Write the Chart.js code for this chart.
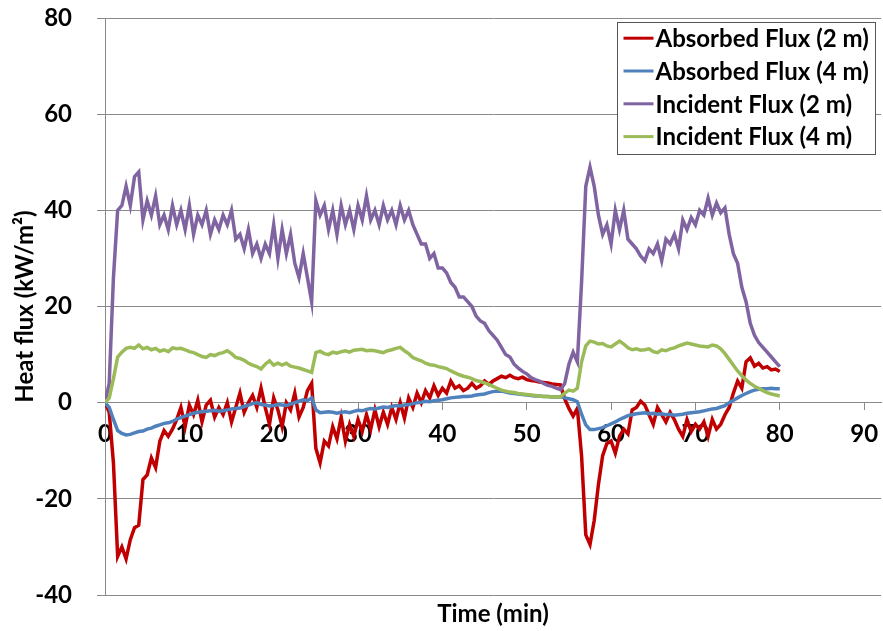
<!DOCTYPE html>
<html>
<head>
<meta charset="utf-8">
<title>Heat flux</title>
<script src="https://cdn.jsdelivr.net/npm/chart.js@4.4.1/dist/chart.umd.min.js"></script>
<style>
  html, body { margin: 0; padding: 0; background: #ffffff; }
  #wrap { width: 883px; height: 631px; }
</style>
</head>
<body>
<div id="wrap"><canvas id="chart" width="883" height="631"></canvas></div>
<script>
// Time axis (minutes), one sample every half minute
const timeMin = [
  0, 0.5, 1, 1.5, 2, 2.5, 3, 3.5, 4, 4.5,
  5, 5.5, 6, 6.5, 7, 7.5, 8, 8.5, 9, 9.5,
  10, 10.5, 11, 11.5, 12, 12.5, 13, 13.5, 14, 14.5,
  15, 15.5, 16, 16.5, 17, 17.5, 18, 18.5, 19, 19.5,
  20, 20.5, 21, 21.5, 22, 22.5, 23, 23.5, 24, 24.5,
  25, 25.5, 26, 26.5, 27, 27.5, 28, 28.5, 29, 29.5,
  30, 30.5, 31, 31.5, 32, 32.5, 33, 33.5, 34, 34.5,
  35, 35.5, 36, 36.5, 37, 37.5, 38, 38.5, 39, 39.5,
  40, 40.5, 41, 41.5, 42, 42.5, 43, 43.5, 44, 44.5,
  45, 45.5, 46, 46.5, 47, 47.5, 48, 48.5, 49, 49.5,
  50, 50.5, 51, 51.5, 52, 52.5, 53, 53.5, 54, 54.5,
  55, 55.5, 56, 56.5, 57, 57.5, 58, 58.5, 59, 59.5,
  60, 60.5, 61, 61.5, 62, 62.5, 63, 63.5, 64, 64.5,
  65, 65.5, 66, 66.5, 67, 67.5, 68, 68.5, 69, 69.5,
  70, 70.5, 71, 71.5, 72, 72.5, 73, 73.5, 74, 74.5,
  75, 75.5, 76, 76.5, 77, 77.5, 78, 78.5, 79, 79.5,
  80
];

// Absorbed heat flux at 2 m (kW/m2)
const absorbed2m = [
  0, -2, -12.5, -32, -30, -32.5, -28.5, -26, -25.5, -16,
  -15, -11.5, -13.5, -8, -5.8, -7, -5.5, -3.5, -1, -5,
  -0.5, -2.5, 0.5, -4, -0.5, 0.5, -3, -1, -2.5, 0,
  -4, -1, 2, -2, 0, 1.5, -1, 3, -1, -4.5,
  1, -1.5, -5, 0, -1.5, 2, -3, -1, 2.5, 4,
  -9.5, -12.5, -8, -9, -5, -7.5, -3, -8, -4.5, -7,
  -3.5, -6, -2.5, -5.5, -1.5, -5, -2, -4.5, -1, -3.5,
  0, -3.2, 1, -1, 2, 0, 2.5, 1, 3.5, 1.5,
  3, 2, 4.5, 3, 3.5, 2.5, 3, 4, 3, 3.5,
  4.5, 3.8, 4.5, 5, 5.5, 5.2, 5.7, 5.2, 5, 5.3,
  4.8, 4.6, 4.5, 4.3, 4.2, 4.1, 3.9, 3.8, 3.7, 0.8,
  -1.2, -2.8, -1.2, -11, -27.5, -29.5, -24.5, -17, -11, -8.5,
  -8, -10.5, -7, -5.5, -6.5, -1.5, -1, 0.3, -0.5, -2.5,
  -4.5, -1, -2.5, -4, -2, -3.5, -5.5, -7, -3.5, -6,
  -4.5, -5.5, -4, -7, -3.5, -5.5, -4.5, -2.5, -1, 2,
  4.5, 3, 8.5, 9.3, 7.6, 8.2, 7.2, 7.5, 6.8, 7,
  6.5
];

// Absorbed heat flux at 4 m (kW/m2)
const absorbed4m = [
  0, -1, -3.5, -5.8, -6.4, -6.7, -6.6, -6.3, -6, -5.9,
  -5.5, -5.3, -4.9, -4.6, -4.3, -4.2, -3.9, -3.4, -3.1, -2.8,
  -2.5, -2.2, -2, -1.9, -1.8, -1.7, -1.6, -1.8, -1.7, -1.5,
  -1.3, -1.2, -1.1, -0.8, -0.5, -0.2, 0, -0.4, -0.5, -0.7,
  -0.6, -0.4, -0.5, -0.6, -0.3, 0, 0.3, 0.6, 0.4, 1,
  -1.5, -2.1, -2, -1.9, -2, -2.2, -2, -1.9, -2.1, -1.8,
  -1.6, -1.7, -1.4, -1.2, -1.3, -1.1, -0.9, -1, -0.8, -0.6,
  -0.7, -0.5, -0.4, -0.2, 0, 0.1, 0.3, 0.2, 0.4, 0.5,
  0.6, 0.8, 1, 1.1, 1.2, 1.3, 1.3, 1.4, 1.6, 1.7,
  1.8, 2.1, 2.3, 2.4, 2.4, 2.2, 2, 1.9, 1.8, 1.7,
  1.6, 1.5, 1.4, 1.4, 1.3, 1.3, 1.2, 1.2, 1.2, 1,
  0.8, 0.6, 0.2, -2.4, -4.6, -5.6, -5.6, -5.4, -5.2, -4.8,
  -4.4, -4, -3.5, -3.1, -2.7, -2.5, -2.3, -2.2, -2.1, -2.3,
  -2.2, -2.4, -2.3, -2.5, -2.4, -2.6, -2.5, -2.4, -2.2, -2.1,
  -2, -1.9, -1.7, -1.5, -1.3, -1.2, -0.9, -0.6, 0, 0.5,
  1, 1.5, 1.9, 2.3, 2.6, 2.8, 2.9, 2.9, 3, 2.9,
  2.9
];

// Incident heat flux at 2 m (kW/m2)
const incident2m = [
  0, 4, 26, 40, 41, 45, 41, 47, 48, 38,
  42, 39, 43, 37, 39, 36, 41, 37, 40, 36,
  41, 35, 39, 37, 40, 35, 38, 36, 39, 37,
  40, 34, 35, 32, 36, 31, 33, 30, 33, 31,
  37, 30, 36, 31, 35, 29, 26, 31, 26, 21,
  42, 39, 41, 36, 40, 35, 41, 37, 40, 36,
  41, 38, 43, 38, 40, 37, 41, 38, 40, 37,
  41, 38, 40, 37, 35, 33, 33, 30, 31, 28,
  28, 27, 25, 24, 22, 22, 21, 20, 18, 17,
  16.5, 15, 14, 13, 11.5, 10, 9.5, 8, 7.2, 6.5,
  6, 5.2, 4.8, 4.5, 4, 3.6, 3.4, 3, 2.7, 4,
  8, 10.5, 8.5, 25, 45, 49, 45, 39, 35, 37,
  33, 40, 36, 40, 34, 33, 32, 30.5, 29.5, 32,
  31, 33, 29.5, 34, 33, 35, 32, 38, 36, 38.5,
  37, 40, 39, 42.5, 39, 41.5, 39.5, 40.5, 35, 31,
  29, 24, 21, 16.5, 14, 12.5, 11.5, 10.5, 9.5, 8.5,
  7.5
];

// Incident heat flux at 4 m (kW/m2)
const incident4m = [
  0, 1, 5, 9.5, 10.5, 11.3, 11.5, 11.3, 12, 11.2,
  11.5, 11, 11.3, 10.7, 11, 10.6, 11.4, 11.2, 11.3, 11,
  10.6, 10.4, 10, 9.6, 9.4, 10, 9.8, 10.2, 10.4, 10.8,
  10.2, 9.4, 9.2, 8.8, 8.2, 7.8, 7.5, 7, 8, 8.7,
  7.8, 8.2, 7.8, 8.2, 7.6, 7.4, 7.2, 6.9, 6.6, 6.3,
  10.4, 10.7, 10.2, 10, 10.5, 10.3, 10.6, 10.8, 10.5, 10.9,
  11, 11.1, 10.8, 10.9, 10.8, 10.6, 10.4, 10.8, 11, 11.3,
  11.5, 10.8, 10.2, 9.4, 9, 8.7, 8.2, 7.9, 7.8, 7.5,
  7.3, 7.1, 6.6, 6.2, 5.8, 5.5, 5.3, 5, 4.6, 4.4,
  4.1, 3.8, 3.4, 3, 2.6, 2.4, 2.2, 2.1, 1.9, 1.8,
  1.7, 1.6, 1.5, 1.4, 1.3, 1.3, 1.2, 1.2, 1.2, 2,
  2.6, 2.4, 3, 8.5, 11.8, 12.8, 12.6, 12.2, 12.3, 11.8,
  11.6, 12.2, 12.8, 12.2, 11.4, 11, 11.2, 10.9, 11, 11.2,
  10.6, 10.4, 11, 10.8, 11.2, 11.4, 11.8, 12.1, 12.4, 12.2,
  12, 11.8, 11.7, 11.6, 12, 11.8, 11.2, 10.2, 9, 7.8,
  6.6, 5.6, 4.7, 4, 3.4, 3, 2.5, 2.1, 1.8, 1.6,
  1.4
];

// Axis tick values
const xTickValues = [0, 10, 20, 30, 40, 50, 60, 70, 80, 90];
const yTickValues = [-40, -20, 0, 20, 40, 60, 80];

const seriesLabels = ['Absorbed Flux (2 m)', 'Absorbed Flux (4 m)', 'Incident Flux (2 m)', 'Incident Flux (4 m)'];
const seriesColors = ['#C00000', '#4F81BD', '#8064A2', '#9BBB59'];
const seriesValues = [absorbed2m, absorbed4m, incident2m, incident4m];

const FONT_FAMILY = 'Lato, "Open Sans", sans-serif';
const FONT_SIZE = 24;
const GRID = '#8a8a8a';

function toPoints(values) {
  return values.map((v, i) => ({ x: timeMin[i], y: v }));
}

// Boxed legend in the upper-right corner of the plot
const boxLegend = {
  id: 'boxLegend',
  afterDraw(chart) {
    const { ctx, chartArea } = chart;
    const sets = chart.data.datasets;
    ctx.save();
    ctx.font = 'bold ' + FONT_SIZE + 'px ' + FONT_FAMILY;
    const sample = 30;
    const rowH = 32.8;
    const textW = Math.max(...sets.map(d => ctx.measureText(d.label).width));
    const w = Math.round(6 + sample + 2 + textW + 7);
    const h = 132;
    const x0 = Math.round(chartArea.right - 6 - w) + 0.5;
    const y0 = Math.round(chartArea.top + 4) + 0.5;
    ctx.fillStyle = '#ffffff';
    ctx.fillRect(x0, y0, w, h);
    ctx.strokeStyle = '#555555';
    ctx.lineWidth = 1;
    ctx.strokeRect(x0, y0, w, h);
    sets.forEach((d, i) => {
      const cy = y0 + 15.7 + i * rowH;
      ctx.strokeStyle = d.borderColor;
      ctx.lineWidth = 3;
      ctx.beginPath();
      ctx.moveTo(x0 + 6, cy);
      ctx.lineTo(x0 + 6 + sample, cy);
      ctx.stroke();
      ctx.fillStyle = '#000000';
      ctx.textBaseline = 'middle';
      ctx.textAlign = 'left';
      ctx.fillText(d.label, x0 + 6 + sample + 2, cy + 1);
    });
    ctx.restore();
  }
};

function build() {
  const datasets = seriesValues.map((vals, i) => ({
    label: seriesLabels[i],
    data: toPoints(vals),
    borderColor: seriesColors[i],
    backgroundColor: seriesColors[i],
    borderWidth: 3.5,
    pointRadius: 0,
    pointHoverRadius: 0,
    tension: 0,
    fill: false,
    order: seriesValues.length - i
  }));

  const tickFont = { family: FONT_FAMILY, size: FONT_SIZE, weight: 'bold' };
  const titleFont = { family: FONT_FAMILY, size: FONT_SIZE, weight: 'bold', lineHeight: 1.2 };

  new Chart(document.getElementById('chart'), {
    type: 'line',
    data: { datasets },
    options: {
      responsive: false,
      animation: false,
      devicePixelRatio: 1,
      layout: { padding: { top: 18, right: 2, bottom: 0, left: 0 } },
      plugins: {
        legend: { display: false },
        tooltip: { enabled: false }
      },
      scales: {
        x: {
          type: 'linear',
          min: 0,
          max: 92,
          position: { y: 0 },
          afterBuildTicks: s => { s.ticks = xTickValues.map(v => ({ value: v })); },
          afterFit: s => { s.paddingLeft = 0; s.paddingRight = 0; },
          grid: { display: true, drawOnChartArea: false, drawTicks: true, tickLength: 7, color: GRID },
          border: { display: true, color: GRID, width: 1 },
          ticks: { autoSkip: false, maxRotation: 0, padding: 10, color: '#000000', font: tickFont }
        },
        x2: {
          type: 'linear',
          position: 'bottom',
          grid: { display: false },
          border: { display: false },
          ticks: { display: false },
          afterFit: s => { s.height = 36; s.paddingLeft = 0; s.paddingRight = 0; },
          title: {
            display: true, text: 'Time (min)', color: '#000000',
            font: titleFont, padding: { top: 4, bottom: 2 }
          }
        },
        y: {
          type: 'linear',
          min: -40,
          max: 80,
          position: 'left',
          afterBuildTicks: s => { s.ticks = yTickValues.map(v => ({ value: v })); },
          afterFit: s => { s.width = 105; s.paddingTop = 0; s.paddingBottom = 0; },
          grid: { display: true, drawOnChartArea: true, drawTicks: true, tickLength: 8, color: GRID },
          border: { display: true, color: GRID, width: 1 },
          ticks: { padding: 25, color: '#000000', font: tickFont },
          title: {
            display: true, text: 'Heat flux (kW/m²)', color: '#000000',
            font: titleFont, padding: { top: 11, bottom: 0 }
          }
        }
      }
    },
    plugins: [boxLegend]
  });
}

if (document.fonts && document.fonts.load) {
  document.fonts.load('bold 24px Lato').then(build, build);
} else {
  build();
}
</script>
</body>
</html>
